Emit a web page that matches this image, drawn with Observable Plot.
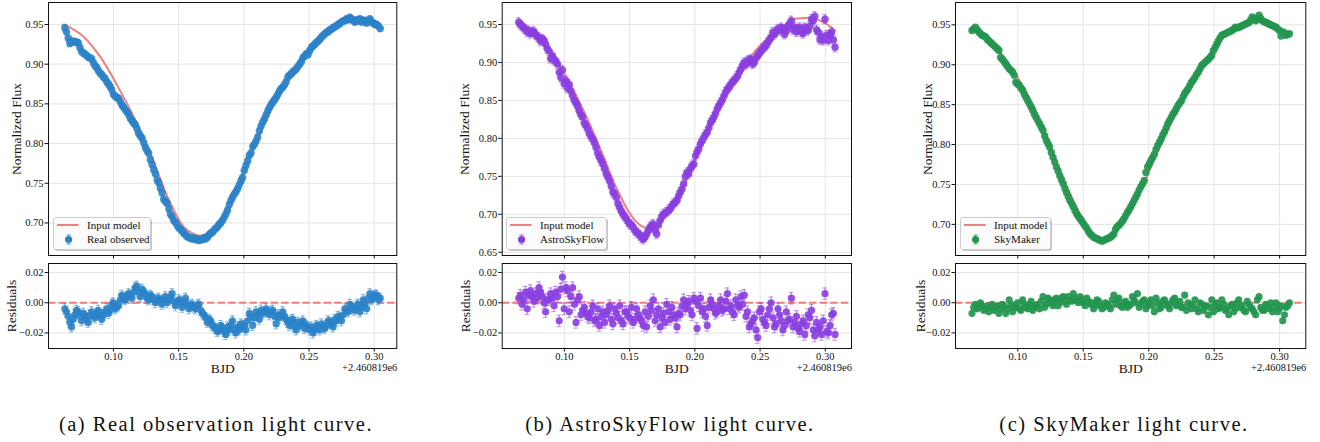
<!DOCTYPE html>
<html>
<head>
<meta charset="utf-8">
<script src="https://cdn.jsdelivr.net/npm/d3@7"></script>
<script src="https://cdn.jsdelivr.net/npm/@observablehq/plot@0.6"></script>
<style>
  html, body { margin: 0; padding: 0; background: #fff; }
  #root { position: relative; width: 1320px; height: 442px; overflow: hidden; background: #fff;
          font-family: "Liberation Serif", "Times New Roman", serif; }
  .cap { position: absolute; top: 412px; font-size: 20.5px; letter-spacing: 1.5px; line-height: 24px; color: #111;
         white-space: nowrap; transform: translateX(-50%); font-family: "Liberation Serif", serif; }
</style>
</head>
<body>
<div id="root"></div>
<script>
// ---------------- data ----------------
const xTicks = [0.10, 0.15, 0.20, 0.25, 0.30];
const fluxTicksAC = [0.70, 0.75, 0.80, 0.85, 0.90, 0.95];
const fluxTicksB = [0.65, 0.70, 0.75, 0.80, 0.85, 0.90, 0.95];
const residTicks = [-0.02, 0.00, 0.02];
const offsetLabel = "+2.460819e6";
const xLabel = "BJD";
const fluxLabel = "Normalized Flux";
const residLabel = "Residuals";
const modelName = "Input model";
const seriesNames = ["Real observed", "AstroSkyFlow", "SkyMaker"];
const captions = ["(a) Real observation light curve.", "(b) AstroSkyFlow light curve.", "(c) SkyMaker light curve."];

// Panel (a): real observation (BJD − 2460819), exposures set 1
const bjdA = [
  0.0627, 0.0653, 0.0679, 0.0704, 0.0730, 0.0756, 0.0781, 0.0807, 0.0833, 0.0859,
  0.0884, 0.0910, 0.0936, 0.0962, 0.0987, 0.1013, 0.1039, 0.1064, 0.1090, 0.1116,
  0.1142, 0.1167, 0.1193, 0.1219, 0.1245, 0.1270, 0.1296, 0.1322, 0.1347, 0.1373,
  0.1399, 0.1425, 0.1450, 0.1476, 0.1502, 0.1527, 0.1553, 0.1579, 0.1605, 0.1630,
  0.1656, 0.1682, 0.1708, 0.1733, 0.1759, 0.1785, 0.1810, 0.1836, 0.1862, 0.1888,
  0.1913, 0.1939, 0.1965, 0.1990, 0.2016, 0.2042, 0.2068, 0.2093, 0.2119, 0.2145,
  0.2171, 0.2196, 0.2222, 0.2248, 0.2273, 0.2299, 0.2325, 0.2351, 0.2376, 0.2402,
  0.2428, 0.2453, 0.2479, 0.2505, 0.2531, 0.2556, 0.2582, 0.2608, 0.2634, 0.2659,
  0.2685, 0.2711, 0.2736, 0.2762, 0.2788, 0.2814, 0.2839, 0.2865, 0.2891, 0.2916,
  0.2942, 0.2968, 0.2994, 0.3019, 0.3046
];
const fluxA = [
  0.946, 0.933, 0.928, 0.928, 0.927, 0.916, 0.913, 0.909, 0.907, 0.898,
  0.892, 0.887, 0.882, 0.875, 0.868, 0.860, 0.857, 0.849, 0.843, 0.837,
  0.829, 0.824, 0.813, 0.807, 0.795, 0.788, 0.774, 0.762, 0.751, 0.738,
  0.727, 0.718, 0.708, 0.701, 0.694, 0.690, 0.685, 0.682, 0.680, 0.679,
  0.678, 0.679, 0.680, 0.685, 0.688, 0.693, 0.698, 0.703, 0.711, 0.723,
  0.732, 0.739, 0.748, 0.757, 0.772, 0.785, 0.796, 0.803, 0.816, 0.827,
  0.836, 0.845, 0.852, 0.858, 0.866, 0.871, 0.878, 0.886, 0.890, 0.894,
  0.900, 0.908, 0.913, 0.917, 0.923, 0.927, 0.931, 0.936, 0.940, 0.943,
  0.946, 0.948, 0.951, 0.954, 0.957, 0.959, 0.955, 0.954, 0.957, 0.955,
  0.952, 0.957, 0.952, 0.950, 0.945
];
const residA = [
  -0.004, -0.009, -0.016, -0.008, -0.006, -0.012, -0.009, -0.013, -0.006, -0.010,
  -0.005, -0.011, -0.006, -0.007, -0.001, -0.004, -0.002, 0.005, 0.002, 0.006,
  0.003, 0.010, 0.007, 0.009, 0.006, 0.002, 0.004, 0.000, 0.003, -0.001,
  0.004, 0.002, 0.006, -0.002, 0.002, -0.003, 0.003, -0.004, -0.001, -0.004,
  -0.001, -0.007, -0.010, -0.011, -0.015, -0.017, -0.018, -0.017, -0.021, -0.018,
  -0.012, -0.020, -0.018, -0.016, -0.018, -0.007, -0.015, -0.006, -0.011, -0.007,
  -0.004, -0.008, -0.005, -0.014, -0.010, -0.006, -0.011, -0.015, -0.011, -0.018,
  -0.015, -0.012, -0.015, -0.018, -0.020, -0.015, -0.018, -0.016, -0.015, -0.013,
  -0.016, -0.012, -0.010, -0.008, -0.005, -0.001, -0.004, -0.002, -0.006, 0.002,
  -0.004, 0.006, 0.004, 0.005, 0.003
];
// Panel (a): exposures set 2 (interleaved in time)
const bjdA2 = [
  0.0640, 0.0666, 0.0692, 0.0717, 0.0743, 0.0769, 0.0794, 0.0820, 0.0846, 0.0872,
  0.0897, 0.0923, 0.0949, 0.0975, 0.1000, 0.1026, 0.1052, 0.1077, 0.1103, 0.1129,
  0.1155, 0.1180, 0.1206, 0.1232, 0.1258, 0.1283, 0.1309, 0.1335, 0.1360, 0.1386,
  0.1412, 0.1438, 0.1463, 0.1489, 0.1515, 0.1540, 0.1566, 0.1592, 0.1618, 0.1643,
  0.1669, 0.1695, 0.1721, 0.1746, 0.1772, 0.1798, 0.1823, 0.1849, 0.1875, 0.1901,
  0.1926, 0.1952, 0.1978, 0.2003, 0.2029, 0.2055, 0.2081, 0.2106, 0.2132, 0.2158,
  0.2184, 0.2209, 0.2235, 0.2261, 0.2286, 0.2312, 0.2338, 0.2364, 0.2389, 0.2415,
  0.2441, 0.2466, 0.2492, 0.2518, 0.2544, 0.2569, 0.2595, 0.2621, 0.2647, 0.2672,
  0.2698, 0.2724, 0.2749, 0.2775, 0.2801, 0.2827, 0.2852, 0.2878, 0.2904, 0.2929,
  0.2955, 0.2981, 0.3007, 0.3033
];
const fluxA2 = [
  0.941, 0.926, 0.929, 0.928, 0.921, 0.914, 0.911, 0.908, 0.902, 0.896,
  0.889, 0.884, 0.878, 0.872, 0.862, 0.858, 0.853, 0.846, 0.840, 0.832,
  0.826, 0.819, 0.810, 0.801, 0.791, 0.780, 0.767, 0.754, 0.744, 0.730,
  0.725, 0.711, 0.703, 0.697, 0.692, 0.687, 0.683, 0.681, 0.681, 0.680,
  0.679, 0.681, 0.682, 0.687, 0.691, 0.695, 0.700, 0.707, 0.716, 0.728,
  0.736, 0.743, 0.753, 0.766, 0.778, 0.788, 0.799, 0.808, 0.822, 0.831,
  0.841, 0.849, 0.855, 0.862, 0.869, 0.874, 0.884, 0.888, 0.892, 0.897,
  0.903, 0.910, 0.912, 0.921, 0.925, 0.929, 0.934, 0.938, 0.941, 0.944,
  0.947, 0.950, 0.953, 0.955, 0.956, 0.957, 0.953, 0.956, 0.953, 0.955,
  0.955, 0.953, 0.950, 0.948
];
const residA2 = [
  -0.006, -0.013, -0.011, -0.005, -0.009, -0.007, -0.011, -0.008, -0.009, -0.007,
  -0.008, -0.008, -0.004, -0.005, 0.000, -0.003, 0.002, 0.003, 0.004, 0.005,
  0.007, 0.011, 0.004, 0.007, 0.003, 0.005, 0.002, 0.002, 0.001, 0.002,
  0.000, 0.004, 0.001, 0.000, 0.001, 0.000, -0.001, -0.002, -0.003, -0.002,
  -0.005, -0.008, -0.013, -0.012, -0.016, -0.019, -0.015, -0.019, -0.016, -0.015,
  -0.018, -0.016, -0.014, -0.015, -0.012, -0.009, -0.010, -0.008, -0.005, -0.006,
  -0.006, -0.006, -0.009, -0.008, -0.008, -0.009, -0.013, -0.012, -0.016, -0.013,
  -0.014, -0.017, -0.016, -0.016, -0.018, -0.016, -0.014, -0.017, -0.012, -0.014,
  -0.011, -0.009, -0.012, -0.004, -0.006, -0.003, -0.005, -0.001, -0.003, -0.001,
  0.003, 0.002, 0.005, 0.002
];
const modelBjdA = [0.0621, 0.0647, 0.0775, 0.0902, 0.1030, 0.1158, 0.1286, 0.1414, 0.1541, 0.1618, 0.1669, 0.1746,
  0.1874, 0.2002, 0.2130, 0.2258, 0.2386, 0.2514, 0.2641, 0.2769, 0.2846, 0.2923, 0.3000, 0.3051];
const modelA = [0.950, 0.948, 0.934, 0.9085, 0.873, 0.833, 0.787, 0.733, 0.6946, 0.686, 0.684, 0.690,
  0.7175, 0.7636, 0.816, 0.860, 0.894, 0.923, 0.944, 0.957, 0.959, 0.957, 0.951, 0.947];

// Panels (b) and (c): simulated light curves, same time sampling
const bjdB = [
  0.0650, 0.0676, 0.0702, 0.0727, 0.0753, 0.0779, 0.0805, 0.0831, 0.0856, 0.0882,
  0.0908, 0.0934, 0.0960, 0.0985, 0.1011, 0.1037, 0.1063, 0.1089, 0.1114, 0.1140,
  0.1166, 0.1192, 0.1218, 0.1243, 0.1269, 0.1295, 0.1321, 0.1347, 0.1372, 0.1398,
  0.1424, 0.1450, 0.1476, 0.1501, 0.1527, 0.1553, 0.1579, 0.1605, 0.1630, 0.1656,
  0.1682, 0.1708, 0.1734, 0.1759, 0.1785, 0.1811, 0.1837, 0.1863, 0.1888, 0.1914,
  0.1940, 0.1966, 0.1992, 0.2017, 0.2043, 0.2069, 0.2095, 0.2121, 0.2146, 0.2172,
  0.2198, 0.2224, 0.2250, 0.2275, 0.2301, 0.2327, 0.2353, 0.2379, 0.2404, 0.2430,
  0.2456, 0.2482, 0.2508, 0.2533, 0.2559, 0.2585, 0.2611, 0.2637, 0.2662, 0.2688,
  0.2714, 0.2740, 0.2766, 0.2791, 0.2817, 0.2843, 0.2869, 0.2895, 0.2920, 0.2946,
  0.2972, 0.2998, 0.3024, 0.3049, 0.3075
];
const bjdB2 = [
  0.0663, 0.0689, 0.0715, 0.0740, 0.0766, 0.0792, 0.0818, 0.0844, 0.0869, 0.0895,
  0.0921, 0.0947, 0.0973, 0.0998, 0.1024, 0.1050, 0.1076, 0.1102, 0.1127, 0.1153,
  0.1179, 0.1205, 0.1231, 0.1256, 0.1282, 0.1308, 0.1334, 0.1360, 0.1385, 0.1411,
  0.1437, 0.1463, 0.1489, 0.1514, 0.1540, 0.1566, 0.1592, 0.1618, 0.1643, 0.1669,
  0.1695, 0.1721, 0.1747, 0.1772, 0.1798, 0.1824, 0.1850, 0.1876, 0.1901, 0.1927,
  0.1953, 0.1979, 0.2005, 0.2030, 0.2056, 0.2082, 0.2108, 0.2134, 0.2159, 0.2185,
  0.2211, 0.2237, 0.2263, 0.2288, 0.2314, 0.2340, 0.2366, 0.2392, 0.2417, 0.2443,
  0.2469, 0.2495, 0.2521, 0.2546, 0.2572, 0.2598, 0.2624, 0.2650, 0.2675, 0.2701,
  0.2727, 0.2753, 0.2779, 0.2804, 0.2830, 0.2856, 0.2882, 0.2908, 0.2933, 0.2959,
  0.2985, 0.3011, 0.3037, 0.3062
];
const fluxB = [
  0.953, 0.948, 0.944, 0.942, 0.940, 0.937, 0.933, 0.931, 0.924, 0.915,
  0.909, 0.902, 0.887, 0.890, 0.876, 0.871, 0.856, 0.847, 0.836, 0.828,
  0.817, 0.806, 0.799, 0.788, 0.775, 0.766, 0.753, 0.744, 0.729, 0.722,
  0.709, 0.700, 0.694, 0.687, 0.683, 0.676, 0.672, 0.667, 0.674, 0.683,
  0.687, 0.674, 0.692, 0.700, 0.703, 0.707, 0.714, 0.718, 0.729, 0.740,
  0.755, 0.760, 0.766, 0.782, 0.793, 0.801, 0.808, 0.821, 0.828, 0.839,
  0.847, 0.856, 0.865, 0.871, 0.876, 0.882, 0.891, 0.900, 0.902, 0.904,
  0.900, 0.909, 0.915, 0.920, 0.926, 0.933, 0.937, 0.944, 0.946, 0.937,
  0.948, 0.955, 0.946, 0.944, 0.940, 0.946, 0.942, 0.957, 0.961, 0.940,
  0.935, 0.957, 0.929, 0.940, 0.920
];
const fluxB2 = [
  0.950, 0.945, 0.940, 0.938, 0.941, 0.934, 0.928, 0.929, 0.918, 0.905,
  0.903, 0.898, 0.880, 0.872, 0.866, 0.862, 0.850, 0.842, 0.831, 0.820,
  0.812, 0.802, 0.794, 0.780, 0.771, 0.760, 0.749, 0.737, 0.727, 0.714,
  0.704, 0.697, 0.690, 0.686, 0.679, 0.675, 0.669, 0.670, 0.678, 0.685,
  0.679, 0.686, 0.697, 0.701, 0.705, 0.711, 0.716, 0.724, 0.733, 0.750,
  0.753, 0.764, 0.777, 0.786, 0.797, 0.805, 0.814, 0.824, 0.833, 0.843,
  0.851, 0.861, 0.867, 0.874, 0.879, 0.887, 0.896, 0.897, 0.903, 0.898,
  0.906, 0.912, 0.918, 0.922, 0.930, 0.940, 0.941, 0.942, 0.944, 0.941,
  0.950, 0.943, 0.940, 0.946, 0.938, 0.944, 0.948, 0.955, 0.943, 0.930,
  0.929, 0.936, 0.937, 0.930
];
const residB = [
  0.003, -0.001, 0.007, 0.005, 0.004, 0.006, 0.010, 0.004, -0.006, 0.002,
  0.003, 0.007, -0.012, 0.017, 0.010, -0.006, 0.010, -0.013, 0.004, -0.005,
  -0.007, -0.010, -0.002, -0.011, -0.015, -0.006, -0.008, -0.002, -0.014, -0.007,
  -0.002, -0.014, -0.006, -0.010, -0.013, -0.004, -0.010, -0.015, -0.016, -0.002,
  0.002, -0.008, -0.016, -0.007, -0.001, -0.011, -0.008, -0.016, -0.008, 0.002,
  -0.001, -0.005, 0.003, -0.017, 0.003, -0.004, -0.015, 0.002, -0.004, -0.006,
  0.002, -0.004, 0.006, -0.002, -0.008, -0.002, 0.004, 0.005, -0.006, -0.014,
  -0.010, -0.023, -0.004, -0.013, -0.008, 0.000, -0.016, -0.004, -0.012, -0.015,
  -0.012, 0.003, -0.013, -0.017, -0.014, -0.021, -0.008, -0.005, -0.022, -0.018,
  -0.021, 0.006, -0.020, -0.008, -0.021
];
const residB2 = [
  0.005, 0.002, -0.004, 0.008, 0.001, 0.003, 0.007, 0.000, 0.002, 0.006,
  -0.002, 0.004, 0.009, -0.004, 0.008, 0.004, -0.001, 0.002, -0.008, -0.003,
  -0.009, -0.006, -0.012, -0.004, -0.009, -0.013, -0.005, -0.011, -0.004, -0.010,
  -0.012, -0.006, -0.009, -0.003, -0.011, -0.008, -0.012, -0.006, -0.009, -0.005,
  -0.012, -0.004, -0.010, -0.013, -0.006, -0.003, -0.010, -0.007, -0.002, -0.004,
  0.001, -0.008, 0.001, -0.002, -0.006, -0.009, -0.003, -0.001, -0.007, -0.002,
  -0.005, 0.001, -0.004, -0.006, 0.002, -0.003, -0.001, -0.009, -0.016, -0.012,
  -0.018, -0.006, -0.011, -0.015, -0.004, -0.010, -0.014, -0.008, -0.018, -0.006,
  -0.011, -0.016, -0.009, -0.019, -0.012, -0.015, -0.010, -0.018, -0.013, -0.016,
  -0.012, -0.019, -0.015, -0.007
];
const modelBjdB = [0.0650, 0.0740, 0.0893, 0.0995, 0.1148, 0.1276, 0.1403, 0.1531, 0.1608, 0.1659, 0.1710, 0.1786,
  0.1914, 0.2041, 0.2169, 0.2297, 0.2424, 0.2552, 0.2680, 0.2782, 0.2884, 0.2986, 0.3075];
const modelB = [0.949, 0.938, 0.915, 0.887, 0.836, 0.786, 0.733, 0.694, 0.683, 0.681, 0.685, 0.700,
  0.736, 0.788, 0.836, 0.876, 0.907, 0.931, 0.948, 0.958, 0.959, 0.953, 0.942];

const bjdC = bjdB;
const bjdC2 = bjdB2;
const fluxC = [
  0.943, 0.947, 0.941, 0.937, 0.935, 0.930, 0.926, 0.922, 0.918, 0.907,
  0.901, 0.895, 0.891, 0.878, 0.874, 0.868, 0.859, 0.851, 0.843, 0.834,
  0.826, 0.818, 0.805, 0.797, 0.784, 0.772, 0.761, 0.751, 0.740, 0.730,
  0.722, 0.713, 0.707, 0.701, 0.695, 0.688, 0.684, 0.682, 0.680, 0.680,
  0.682, 0.684, 0.688, 0.697, 0.701, 0.707, 0.715, 0.722, 0.730, 0.738,
  0.747, 0.755, 0.772, 0.780, 0.788, 0.799, 0.807, 0.816, 0.826, 0.834,
  0.841, 0.849, 0.855, 0.864, 0.870, 0.878, 0.884, 0.891, 0.899, 0.903,
  0.907, 0.912, 0.922, 0.930, 0.937, 0.939, 0.941, 0.943, 0.947, 0.947,
  0.949, 0.951, 0.953, 0.960, 0.955, 0.962, 0.955, 0.953, 0.951, 0.949,
  0.947, 0.943, 0.941, 0.937, 0.939
];
const fluxC2 = [
  0.945, 0.944, 0.939, 0.936, 0.932, 0.928, 0.924, 0.920, 0.909, 0.904,
  0.898, 0.893, 0.887, 0.876, 0.871, 0.863, 0.855, 0.847, 0.838, 0.830,
  0.822, 0.811, 0.801, 0.790, 0.778, 0.767, 0.756, 0.745, 0.735, 0.726,
  0.717, 0.710, 0.704, 0.698, 0.691, 0.686, 0.683, 0.681, 0.679, 0.681,
  0.683, 0.686, 0.694, 0.699, 0.704, 0.711, 0.718, 0.726, 0.734, 0.743,
  0.751, 0.765, 0.776, 0.784, 0.794, 0.803, 0.812, 0.821, 0.830, 0.838,
  0.845, 0.852, 0.860, 0.867, 0.874, 0.881, 0.888, 0.895, 0.901, 0.905,
  0.909, 0.918, 0.926, 0.934, 0.938, 0.940, 0.942, 0.945, 0.946, 0.948,
  0.950, 0.952, 0.956, 0.958, 0.957, 0.958, 0.954, 0.952, 0.950, 0.948,
  0.945, 0.936, 0.940, 0.938
];
const residC = [
  -0.007, -0.001, -0.003, -0.002, -0.004, -0.006, -0.001, -0.003, -0.007, -0.001,
  -0.007, 0.002, -0.006, -0.002, -0.004, 0.002, -0.003, -0.001, -0.005, -0.002,
  -0.004, 0.004, -0.001, 0.002, -0.002, 0.003, 0.000, 0.004, -0.001, 0.002,
  0.006, 0.002, 0.004, 0.000, 0.003, -0.001, -0.004, 0.002, -0.002, -0.003,
  -0.001, -0.004, 0.005, 0.002, -0.002, 0.000, -0.003, -0.001, 0.002, 0.006,
  -0.001, 0.002, -0.002, 0.002, -0.006, 0.000, -0.003, 0.002, -0.002, 0.000,
  0.003, -0.001, -0.003, 0.005, 0.000, -0.004, 0.002, -0.006, -0.001, -0.003,
  -0.008, 0.002, -0.002, -0.004, 0.002, -0.005, -0.008, -0.001, -0.004, 0.002,
  -0.002, -0.006, -0.001, -0.004, -0.008, 0.004, -0.005, -0.001, -0.004, -0.006,
  0.000, -0.004, -0.012, -0.003, 0.000
];
const residC2 = [
  -0.003, -0.004, 0.000, -0.005, -0.002, -0.003, -0.005, -0.002, -0.004, -0.002,
  -0.004, -0.001, -0.003, 0.000, -0.005, -0.001, -0.004, 0.001, -0.003, -0.001,
  0.001, -0.003, 0.003, 0.000, 0.002, -0.002, 0.003, 0.001, 0.004, 0.001,
  0.003, 0.000, 0.002, -0.002, 0.001, 0.000, -0.002, 0.001, -0.004, 0.000,
  -0.002, 0.002, -0.001, 0.003, -0.003, 0.001, -0.002, 0.004, 0.000, -0.003,
  0.001, -0.004, 0.000, -0.002, 0.003, -0.004, 0.001, -0.001, -0.004, 0.002,
  -0.002, 0.001, -0.003, -0.005, -0.001, -0.002, -0.004, 0.000, -0.005, -0.002,
  -0.003, -0.006, 0.000, -0.003, -0.001, -0.004, -0.002, -0.006, 0.000, -0.003,
  -0.005, 0.001, -0.003, -0.006, 0.002, -0.003, -0.005, -0.002, 0.000, -0.003,
  -0.006, -0.002, -0.008, -0.002
];
const modelBjdC = [0.0651, 0.0868, 0.1122, 0.1377, 0.1530, 0.1632, 0.1683, 0.1785, 0.1887, 0.2142, 0.2397,
  0.2524, 0.2651, 0.2779, 0.2855, 0.2957, 0.3072];
const modelC = [0.945, 0.915, 0.847, 0.746, 0.698, 0.681, 0.681, 0.699, 0.726, 0.818, 0.895,
  0.926, 0.945, 0.956, 0.958, 0.950, 0.938];

// ---------------- layout & style (not data) ----------------
const FONT = '"Liberation Serif", "Times New Roman", serif';
const modelColor = "#f08080";
const zeroColor = "#f07070";
const gridColor = "#e4e4e4";
const panels = [
  {sets: [[bjdA, fluxA, residA], [bjdA2, fluxA2, residA2]], mt: modelBjdA, m: modelA,
   name: seriesNames[0], caption: captions[0],
   yTicks: fluxTicksAC, color: "#2a82c8", svgL: 0, svgW: 445, fl: 48, fr: 396.3,
   xd: [0.0502, 0.3173], yd: [0.659, 0.9777], fluxLab: 16.5, resLab: 11.5, legW: 97, capX: 216,
   fe: 0.004, re: 0.0033},
  {sets: [[bjdB, fluxB, residB], [bjdB2, fluxB2, residB2]], mt: modelBjdB, m: modelB,
   name: seriesNames[1], caption: captions[1],
   yTicks: fluxTicksB, color: "#8a3ee0", svgL: 450, svgW: 420, fl: 501.7, fr: 851,
   xd: [0.0523, 0.3201], yd: [0.6457, 0.979], fluxLab: 464, resLab: 465, legW: 100, capX: 670,
   fe: 0.006, re: 0.0038},
  {sets: [[bjdC, fluxC, residC], [bjdC2, fluxC2, residC2]], mt: modelBjdC, m: modelC,
   name: seriesNames[2], caption: captions[2],
   yTicks: fluxTicksAC, color: "#22964f", svgL: 905, svgW: 415, fl: 955, fr: 1305.3,
   xd: [0.0524, 0.3200], yd: [0.661, 0.978], fluxLab: 926.7, resLab: 920, legW: 90, capX: 1124,
   fe: 0.0015, re: 0.0012}
];

const root = document.getElementById("root");
const fmt2 = d3.format(".2f");

function place(el, left, top) {
  el.style.position = "absolute";
  el.style.left = left + "px";
  el.style.top = top + "px";
  el.style.overflow = "visible";
  root.appendChild(el);
}

function errorMarks(data, yKey, e, color, capHalf) {
  const o = {stroke: color, strokeOpacity: 0.5, strokeWidth: 1.2};
  return [
    Plot.ruleX(data, {x: "t", y1: d => d[yKey] - e, y2: d => d[yKey] + e, ...o}),
    Plot.ruleY(data, {y: d => d[yKey] + e, x1: d => d.t - capHalf, x2: d => d.t + capHalf, ...o}),
    Plot.ruleY(data, {y: d => d[yKey] - e, x1: d => d.t - capHalf, x2: d => d.t + capHalf, ...o})
  ];
}

panels.forEach(p => {
  const pts = p.sets.flatMap(([T, F, R]) => T.map((t, i) => ({t, f: F[i], r: R[i]})));
  const model = p.mt.map((t, i) => ({t, m: p.m[i]}));
  const mL = p.fl - p.svgL;
  const mR = p.svgL + p.svgW - p.fr;
  const capHalf = 2.2 / ((p.fr - p.fl) / (p.xd[1] - p.xd[0]));
  const baseStyle = {fontFamily: FONT, fontSize: "10.5px", color: "#111", background: "transparent", overflow: "visible"};

  // ---- top: light curve ----
  const top = Plot.plot({
    width: p.svgW, height: 258,
    marginLeft: mL, marginRight: mR, marginTop: 2, marginBottom: 3,
    style: baseStyle,
    x: {domain: p.xd},
    y: {domain: p.yd},
    marks: [
      Plot.gridX(xTicks, {stroke: gridColor, strokeOpacity: 1}),
      Plot.gridY(p.yTicks, {stroke: gridColor, strokeOpacity: 1}),
      Plot.line(model, {x: "t", y: "m", stroke: modelColor, strokeWidth: 2, curve: "monotone-x"}),
      ...errorMarks(pts, "f", p.fe, p.color, capHalf),
      Plot.dot(pts, {x: "t", y: "f", r: 3.7, fill: p.color, fillOpacity: 0.9}),
      Plot.axisX(xTicks, {tickSize: 3.5, tickFormat: () => "", label: null, stroke: "#111"}),
      Plot.axisY(p.yTicks, {tickSize: 3.5, tickPadding: 1.5, tickFormat: fmt2, label: null, stroke: "#111",
        fontFamily: FONT}),
      Plot.text([fluxLabel], {text: d => d, frameAnchor: "left", dx: p.fluxLab - p.fl, rotate: -90,
        textAnchor: "middle", lineAnchor: "middle", fontSize: 13.5, fontFamily: FONT, fill: "#111"}),
      Plot.frame({stroke: "#111", strokeWidth: 1})
    ]
  });
  place(top, p.svgL, 0);

  // ---- bottom: residuals ----
  const bot = Plot.plot({
    width: p.svgW, height: 115,
    marginLeft: mL, marginRight: mR, marginTop: 2, marginBottom: 28,
    style: baseStyle,
    x: {domain: p.xd},
    y: {domain: [-0.0303, 0.026]},
    marks: [
      Plot.gridX(xTicks, {stroke: gridColor, strokeOpacity: 1}),
      Plot.gridY(residTicks, {stroke: gridColor, strokeOpacity: 1}),
      Plot.ruleY([0], {stroke: zeroColor, strokeWidth: 2, strokeDasharray: "7.4,3.2", strokeOpacity: 0.9}),
      ...errorMarks(pts, "r", p.re, p.color, capHalf),
      Plot.dot(pts, {x: "t", y: "r", r: 3.6, fill: p.color, fillOpacity: 0.9}),
      Plot.axisX(xTicks, {tickSize: 3.5, tickPadding: 1, tickFormat: fmt2, label: null, stroke: "#111",
        fontFamily: FONT}),
      Plot.axisY(residTicks, {tickSize: 3.5, tickPadding: 1.5, tickFormat: fmt2, label: null, stroke: "#111",
        fontFamily: FONT}),
      Plot.text([residLabel], {text: d => d, frameAnchor: "left", dx: p.resLab - p.fl, rotate: -90,
        textAnchor: "middle", lineAnchor: "middle", fontSize: 13.5, fontFamily: FONT, fill: "#111"}),
      Plot.text([xLabel], {text: d => d, frameAnchor: "bottom", dy: 24.3, lineAnchor: "bottom",
        fontSize: 13.5, fontFamily: FONT, fill: "#111"}),
      Plot.text([offsetLabel], {text: d => d, frameAnchor: "bottom-right", dy: 22, dx: 0.5, textAnchor: "end",
        lineAnchor: "bottom", fontSize: 10.5, fontFamily: FONT, fill: "#111"}),
      Plot.frame({stroke: "#111", strokeWidth: 1})
    ]
  });
  place(bot, p.svgL, 261);

  // ---- legend ----
  const w = p.legW, h = 32;
  const lg = d3.create("svg").attr("width", w + 4).attr("height", h + 4)
    .attr("font-family", FONT).attr("font-size", 11);
  lg.append("rect").attr("x", 2).attr("y", 2).attr("width", w).attr("height", h).attr("rx", 2.5)
    .attr("fill", "rgba(0,0,0,0.22)");
  lg.append("rect").attr("x", 0.5).attr("y", 0.5).attr("width", w).attr("height", h).attr("rx", 2.5)
    .attr("fill", "rgba(255,255,255,0.92)").attr("stroke", "#cccccc");
  lg.append("line").attr("x1", 4).attr("x2", 25.6).attr("y1", 8).attr("y2", 8)
    .attr("stroke", modelColor).attr("stroke-width", 2);
  lg.append("text").attr("x", 34).attr("y", 11.8).attr("fill", "#111").text(modelName);
  lg.append("line").attr("x1", 15.6).attr("x2", 15.6).attr("y1", 18).attr("y2", 27)
    .attr("stroke", p.color).attr("stroke-opacity", 0.6).attr("stroke-width", 1.2);
  lg.append("line").attr("x1", 13.4).attr("x2", 17.8).attr("y1", 18).attr("y2", 18)
    .attr("stroke", p.color).attr("stroke-opacity", 0.6).attr("stroke-width", 1.2);
  lg.append("line").attr("x1", 13.4).attr("x2", 17.8).attr("y1", 27).attr("y2", 27)
    .attr("stroke", p.color).attr("stroke-opacity", 0.6).attr("stroke-width", 1.2);
  lg.append("circle").attr("cx", 15.6).attr("cy", 22.5).attr("r", 3.6).attr("fill", p.color);
  lg.append("text").attr("x", 34).attr("y", 26.3).attr("fill", "#111").text(p.name);
  place(lg.node(), p.fl + 4.7, 217);

  // ---- caption ----
  const cap = document.createElement("div");
  cap.className = "cap";
  cap.textContent = p.caption;
  cap.style.left = p.capX + "px";
  root.appendChild(cap);
});
</script>
</body>
</html>
